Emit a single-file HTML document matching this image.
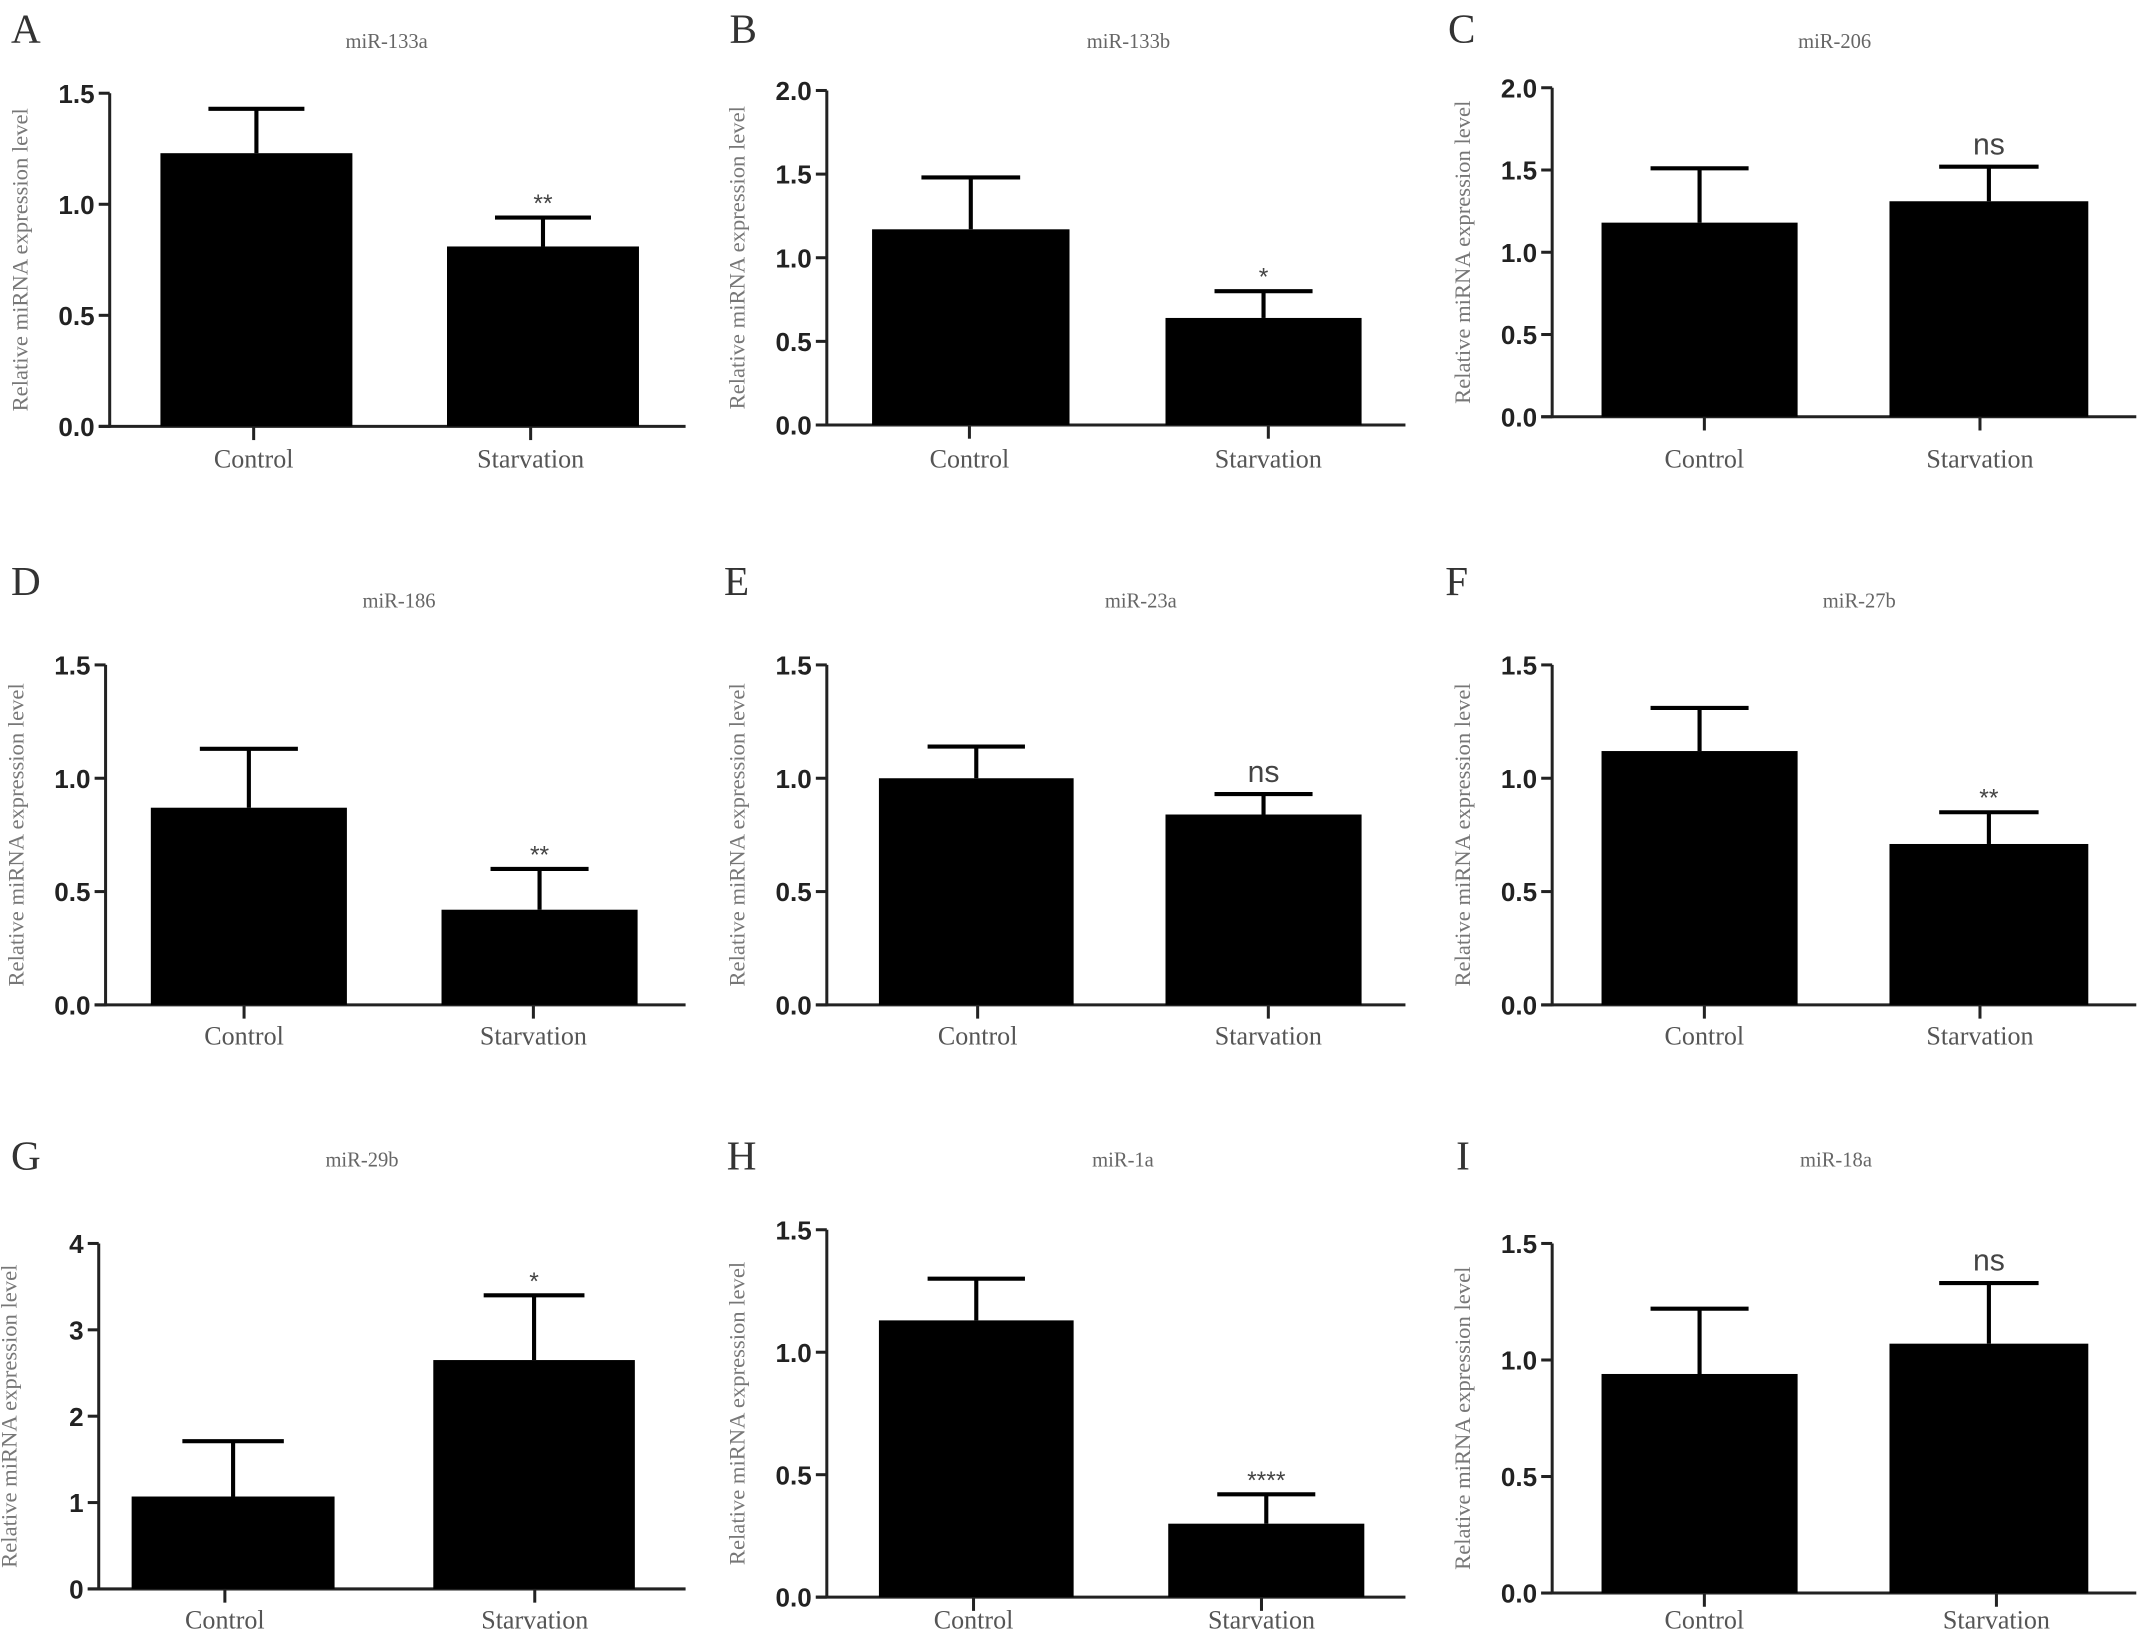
<!DOCTYPE html>
<html><head><meta charset="utf-8"><style>
html,body{margin:0;padding:0;background:#fff;}
svg{display:block;}
</style></head><body>
<svg id="fig" width="2150" height="1652" viewBox="0 0 1568 1205" preserveAspectRatio="none" xmlns="http://www.w3.org/2000/svg"></svg>
<script>
const panelLetters = ["A","B","C","D","E","F","G","H","I"];
const panelTitles = ["miR-133a","miR-133b","miR-206","miR-186","miR-23a","miR-27b","miR-29b","miR-1a","miR-18a"];
const categories = ["Control","Starvation"];
const meanValues = [[1.23,0.81],[1.17,0.64],[1.18,1.31],[0.87,0.42],[1.00,0.84],[1.12,0.71],[1.07,2.65],[1.13,0.30],[0.94,1.07]];
const errorTops = [[1.43,0.94],[1.48,0.80],[1.51,1.52],[1.13,0.60],[1.14,0.93],[1.31,0.85],[1.71,3.40],[1.30,0.42],[1.22,1.33]];
const significance = ["**","*","ns","**","ns","**","*","****","ns"];
const yMaxes = [1.5,2.0,2.0,1.5,1.5,1.5,4,1.5,1.5];
const yTickLabels = [
 ["0.0","0.5","1.0","1.5"],["0.0","0.5","1.0","1.5","2.0"],["0.0","0.5","1.0","1.5","2.0"],
 ["0.0","0.5","1.0","1.5"],["0.0","0.5","1.0","1.5"],["0.0","0.5","1.0","1.5"],
 ["0","1","2","3","4"],["0.0","0.5","1.0","1.5"],["0.0","0.5","1.0","1.5"]];

const layout = [
 {ax:80,top:68,zero:311,right:500,bars:[[117,257],[326,466]],cat:[185,387],catY:341,title:[282,35],letter:[8,31]},
 {ax:603,top:66,zero:310,right:1025,bars:[[636,780],[850,993]],cat:[707,925],catY:341,title:[823,35],letter:[532,31]},
 {ax:1132,top:64,zero:304,right:1558,bars:[[1168,1311],[1378,1523]],cat:[1243,1444],catY:341,title:[1338,35],letter:[1056,31]},
 {ax:77,top:485,zero:733,right:500,bars:[[110,253],[322,465]],cat:[178,389],catY:762,title:[291,443],letter:[8,434]},
 {ax:603,top:485,zero:733,right:1025,bars:[[641,783],[850,993]],cat:[713,925],catY:762,title:[832,443],letter:[528,434]},
 {ax:1132,top:485,zero:733,right:1558,bars:[[1168,1311],[1378,1523]],cat:[1243,1444],catY:762,title:[1356,443],letter:[1054,434]},
 {ax:72,top:907,zero:1159,right:500,bars:[[96,244],[316,463]],cat:[164,390],catY:1188,title:[264,851],letter:[8,853]},
 {ax:603,top:897,zero:1165,right:1025,bars:[[641,783],[852,995]],cat:[710,920],catY:1188,title:[819,851],letter:[530,853]},
 {ax:1132,top:907,zero:1162,right:1558,bars:[[1168,1311],[1378,1523]],cat:[1243,1456],catY:1188,title:[1339,851],letter:[1062,853]}
];
const NS="http://www.w3.org/2000/svg";
const svg=document.getElementById('fig');
function mk(tag,attrs,parent){const e=document.createElementNS(NS,tag);for(const k in attrs)e.setAttribute(k,attrs[k]);(parent||svg).appendChild(e);return e;}
const serif='"Liberation Serif", serif', sans='"Liberation Sans", sans-serif';
layout.forEach((L,p)=>{
  const g=mk('g',{});
  
  
  const y=v=>L.zero-(v/yMaxes[p])*(L.zero-L.top);
  let t=mk('text',{x:L.letter[0],y:L.letter[1],'font-family':serif,'font-size':30,fill:'#333'},g);t.textContent=panelLetters[p];
  
  t=mk('text',{x:L.title[0],y:L.title[1],'font-family':serif,'font-size':15,fill:'#666','text-anchor':'middle'},g);t.textContent=panelTitles[p];
  
  const cy=(L.top+L.zero)/2;
  t=mk('text',{x:0,y:0,'font-family':serif,'font-size':16.5,fill:'#777','text-anchor':'middle',transform:`translate(${L.ax-60},${cy}) rotate(-90)`},g);t.textContent='Relative miRNA expression level';
  
  let a=mk('line',{x1:L.ax,y1:L.top,x2:L.ax,y2:L.zero+1,stroke:'#222','stroke-width':2.2},g);
  
  a=mk('line',{x1:L.ax-8,y1:L.zero,x2:L.right,y2:L.zero,stroke:'#222','stroke-width':2.2},g);
  
  const n=yTickLabels[p].length;
  yTickLabels[p].forEach((lab,i)=>{
    const v=yMaxes[p]*i/(n-1), yy=y(v);
    mk('line',{x1:L.ax-8,y1:yy,x2:L.ax,y2:yy,stroke:'#222','stroke-width':2.2},g);
    const tt=mk('text',{x:L.ax-11,y:yy+7,'font-family':sans,'font-weight':'bold','font-size':19,fill:'#222','text-anchor':'end'},g);
    tt.textContent=lab;
    
  });
  categories.forEach((c,i)=>{
    const [x0,x1]=L.bars[i], cx=(x0+x1)/2;
    const r=mk('rect',{x:x0,y:y(meanValues[p][i]),width:x1-x0,height:L.zero-y(meanValues[p][i]),fill:'#000'},g);
    
    const et=y(errorTops[p][i]), hw=(x1-x0)/4;
    const e1=mk('line',{x1:cx,y1:y(meanValues[p][i]),x2:cx,y2:et,stroke:'#000','stroke-width':3},g);
    
    mk('line',{x1:cx-hw,y1:et,x2:cx+hw,y2:et,stroke:'#000','stroke-width':3},g);
    mk('line',{x1:L.cat[i],y1:L.zero,x2:L.cat[i],y2:L.zero+10,stroke:'#222','stroke-width':2.2},g);
    const ct=mk('text',{x:L.cat[i],y:L.catY,'font-family':serif,'font-size':19,fill:'#555','text-anchor':'middle'},g);
    ct.textContent=c;
    
  });
  const sx=(L.bars[1][0]+L.bars[1][1])/2, s=significance[p];
  const st=mk('text',{x:sx,y:y(errorTops[p][1])-(s==='ns'?9:4),'font-family':sans,'font-size':s==='ns'?22:18,fill:'#444','text-anchor':'middle'},g);
  st.textContent=s;
  
});
</script>
</body></html>
